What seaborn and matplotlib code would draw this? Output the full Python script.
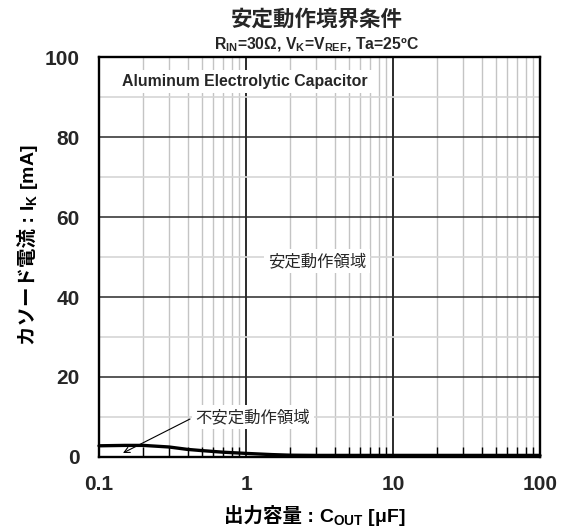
import numpy as np
import matplotlib
matplotlib.use("Agg")
import matplotlib.pyplot as plt
import seaborn as sns
from matplotlib.ticker import (LogLocator, MultipleLocator, FixedLocator,
                               FixedFormatter, NullFormatter)
from matplotlib.offsetbox import TextArea, HPacker, AnchoredOffsetbox

# Stability boundary: cathode current limit versus output capacitance
c_out_uf = [0.1, 0.15, 0.2, 0.3, 0.4, 0.5, 0.7, 1.0, 1.5, 2.0, 3.0, 5.0, 10.0, 30.0, 100.0]
i_k_ma = [2.8, 2.9, 2.9, 2.5, 1.9, 1.6, 1.2, 0.9, 0.6, 0.45, 0.4, 0.4, 0.4, 0.4, 0.4]

x_ticks = [0.1, 1, 10, 100]
x_tick_labels = ["0.1", "1", "10", "100"]
y_ticks = [0, 20, 40, 60, 80, 100]
y_tick_labels = ["0", "20", "40", "60", "80", "100"]

title = "安定動作境界条件"
subtitle = "R$_{IN}$=30Ω, V$_{K}$=V$_{REF}$, Ta=25ºC"
xlabel_jp = "出力容量 : "
xlabel_sym = "C$_{OUT}$ [μF]"
ylabel_jp = "カソード電流 : "
ylabel_sym = "I$_{K}$ [mA]"
cap_label = "Aluminum Electrolytic Capacitor"
stable_label = "安定動作領域"
unstable_label = "不安定動作領域"

sns.set_theme(style="white")
plt.rcParams["font.family"] = ["Liberation Sans", "Noto Sans CJK JP"]
plt.rcParams["mathtext.default"] = "regular"
plt.rcParams["axes.unicode_minus"] = False

W, H = 567, 532
fig = plt.figure(figsize=(W / 100, H / 100), dpi=100)
fig.patch.set_facecolor("white")
ax = fig.add_axes([99 / W, 1 - 457 / H, 441 / W, 400 / H])
ax.set_facecolor("white")

sns.lineplot(x=c_out_uf, y=i_k_ma, ax=ax, color="black", linewidth=2.4,
             zorder=4, clip_on=False)

ax.set_xscale("log")
ax.set_xlim(0.1, 100)
ax.set_ylim(0, 100)

ax.xaxis.set_major_locator(FixedLocator(x_ticks))
ax.xaxis.set_major_formatter(FixedFormatter(x_tick_labels))
ax.xaxis.set_minor_locator(LogLocator(base=10, subs=np.arange(2, 10)))
ax.xaxis.set_minor_formatter(NullFormatter())
ax.yaxis.set_major_locator(FixedLocator(y_ticks))
ax.yaxis.set_major_formatter(FixedFormatter(y_tick_labels))
ax.yaxis.set_minor_locator(MultipleLocator(10))

ax.set_axisbelow(True)
ax.grid(which="minor", axis="x", color="#c4c4c4", linewidth=1.0)
ax.grid(which="minor", axis="y", color="#d6d6d6", linewidth=1.2)
ax.grid(which="major", axis="x", color="#1a1a1a", linewidth=1.3)
ax.grid(which="major", axis="y", color="#2a2a2a", linewidth=1.1)

ax.tick_params(which="major", length=0, labelsize=15)
ax.tick_params(axis="x", which="major", pad=13)
ax.tick_params(axis="y", which="major", pad=14)
ax.tick_params(axis="x", which="minor", direction="in", length=7, width=1.0,
               color="black", bottom=True, top=False)
ax.tick_params(axis="y", which="minor", length=0)
for lab in ax.get_xticklabels() + ax.get_yticklabels():
    lab.set_fontweight("bold")

for s in ax.spines.values():
    s.set_visible(True)
    s.set_color("black")
    s.set_linewidth(1.7)

box = dict(facecolor="white", edgecolor="none", pad=3)
ax.text(0.98, 93.9, cap_label, ha="center", va="center", fontsize=11.4,
        fontweight="bold", bbox=box, zorder=5)
ax.text(3.04, 49, stable_label, ha="center", va="center", fontsize=11.8,
        bbox=box, zorder=5)
ax.text(1.116, 10.0, unstable_label, ha="center", va="center", fontsize=11.8,
        bbox=box, zorder=5)
ax.annotate("", xy=(0.1456, 1.0), xytext=(0.416, 9.5),
            arrowprops=dict(arrowstyle="->", color="black", lw=0.8,
                            shrinkA=0, shrinkB=0, mutation_scale=10),
            zorder=5)

# Titles
fig.text(317 / W, 1 - 20 / H, title, ha="center", va="center",
         fontsize=15.5, fontweight="bold")
fig.text(317 / W, 1 - 45 / H, subtitle, ha="center", va="center",
         fontsize=11.3, fontweight="bold")

# X label: Japanese part plus symbol with subscript
tp = dict(fontsize=14, fontweight="bold", color="black")
xl = HPacker(children=[TextArea(xlabel_jp, textprops=tp),
                       TextArea(xlabel_sym, textprops=tp)],
             align="baseline", pad=0, sep=0)
fig.add_artist(AnchoredOffsetbox(loc="center", child=xl, pad=0, borderpad=0,
                                 frameon=False,
                                 bbox_to_anchor=(315 / W, 1 - 517 / H),
                                 bbox_transform=fig.transFigure))

# Y label: rotated, two chained pieces sharing a baseline
yb = 34 / W
t1 = fig.text(yb, 0.3, ylabel_jp, rotation=90, rotation_mode="anchor",
              ha="left", va="baseline", **tp)
t2 = fig.text(yb, 0.5, ylabel_sym, rotation=90, rotation_mode="anchor",
              ha="left", va="baseline", **tp)
fig.canvas.draw()
r = fig.canvas.get_renderer()
b1 = t1.get_window_extent(r)
b2 = t2.get_window_extent(r)
total = b1.height + b2.height
start = (H - 245) - total / 2
t1.set_position((yb, start / H))
t2.set_position((yb, (start + b1.height) / H))

fig.savefig("out.png", dpi=100, facecolor="white")
